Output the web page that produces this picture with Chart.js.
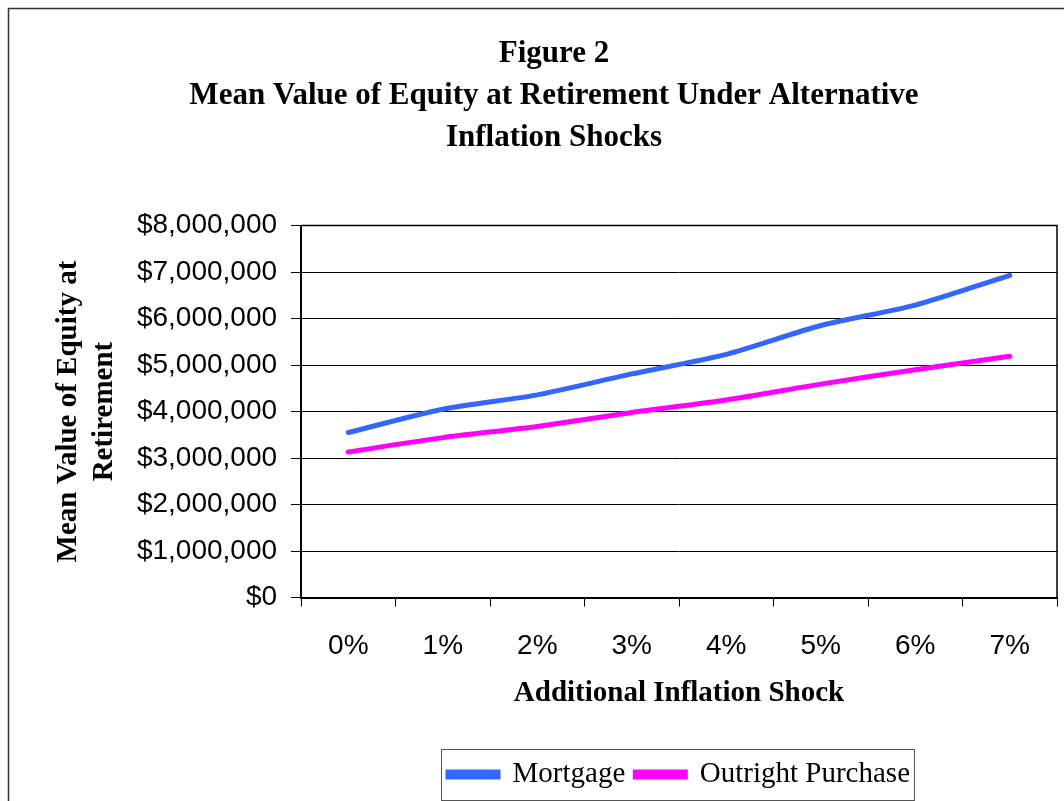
<!DOCTYPE html>
<html>
<head>
<meta charset="utf-8">
<script src="https://cdn.jsdelivr.net/npm/chart.js@4.4.1/dist/chart.umd.min.js"></script>
<style>
    html, body { margin: 0; padding: 0; background: #fff; overflow: hidden; }
    #wrap { width: 1090px; height: 801px; }
</style>
</head>
<body>
<div id="wrap"><canvas id="equity_chart" width="1090" height="801"></canvas></div>
<script>
const shocks = ['0%', '1%', '2%', '3%', '4%', '5%', '6%', '7%'];
const mortgage = [3550000, 4050000, 4360000, 4810000, 5230000, 5850000, 6290000, 6930000];
const outright = [3130000, 3440000, 3680000, 3980000, 4250000, 4590000, 4900000, 5190000];
const titleLines = ['Figure 2', 'Mean Value of Equity at Retirement Under Alternative', 'Inflation Shocks'];
const yTitleLines = ['Mean Value of Equity at', 'Retirement'];

const serif = "'Liberation Serif', 'Times New Roman', serif";
const sans = "'Liberation Sans', Arial, sans-serif";

// page frame, plot box and legend box
const framePlugin = {
    id: 'frames',
    beforeDraw(chart) {
        const ctx = chart.ctx;
        ctx.save();
        ctx.strokeStyle = '#333';
        ctx.lineWidth = 1.5;
        ctx.strokeRect(8.5, 8.5, 2000, 2000);
        ctx.restore();
    },
    afterDraw(chart) {
        const ctx = chart.ctx;
        const a = chart.chartArea;
        ctx.save();
        ctx.strokeStyle = '#000';
        ctx.lineWidth = 1.5;
        ctx.beginPath();
        ctx.moveTo(a.left, a.top);
        ctx.lineTo(a.right, a.top);
        ctx.lineTo(a.right, a.bottom);
        ctx.stroke();

        const boxes = chart.legend.legendHitBoxes;
        if (boxes && boxes.length) {
            const left = Math.min(...boxes.map(b => b.left)) - 7;
            const right = Math.max(...boxes.map(b => b.left + b.width)) + 4;
            const top = boxes[0].top - 11;
            const bottom = boxes[0].top + boxes[0].height + 11;
            ctx.strokeStyle = '#555';
            ctx.lineWidth = 1;
            ctx.strokeRect(Math.round(left) + 0.5, Math.round(top) + 0.5, right - left, bottom - top);
        }
        ctx.restore();
    }
};

const ctx = document.getElementById('equity_chart').getContext('2d');
const equityChart = new Chart(ctx, {
    type: 'line',
    data: {
        labels: shocks,
        datasets: [{
            label: 'Mortgage',
            data: mortgage,
            borderColor: '#3366ff',
            backgroundColor: '#3366ff',
            borderWidth: 5,
            tension: 0.25,
            pointRadius: 0,
            borderCapStyle: 'round'
        }, {
            label: 'Outright Purchase',
            data: outright,
            borderColor: '#ff00ff',
            backgroundColor: '#ff00ff',
            borderWidth: 5,
            tension: 0.25,
            pointRadius: 0,
            borderCapStyle: 'round'
        }]
    },
    options: {
        responsive: false,
        animation: false,
        devicePixelRatio: 1,
        layout: {
            padding: { top: 33, left: 51, right: 33, bottom: 2 }
        },
        plugins: {
            title: {
                display: true,
                text: titleLines,
                color: '#000',
                font: { family: serif, size: 31, weight: 'bold', lineHeight: 1.35 },
                padding: { top: 0, bottom: 67 }
            },
            legend: {
                position: 'bottom',
                fullSize: false,
                labels: {
                    color: '#000',
                    font: { family: serif, size: 29 },
                    boxWidth: 50,
                    boxHeight: 5,
                    padding: 10
                }
            },
            tooltip: { enabled: false }
        },
        scales: {
            x: {
                offset: true,
                grid: {
                    offset: true,
                    drawOnChartArea: false,
                    drawTicks: true,
                    tickLength: 9,
                    color: '#000'
                },
                border: { color: '#000', width: 2 },
                ticks: {
                    color: '#000',
                    padding: 23,
                    maxRotation: 0,
                    font: { family: sans, size: 28 }
                },
                title: {
                    display: true,
                    text: 'Additional Inflation Shock',
                    color: '#000',
                    font: { family: serif, size: 29, weight: 'bold', lineHeight: 1.2 },
                    padding: { top: -10, bottom: 39 }
                }
            },
            y: {
                min: 0,
                max: 8000000,
                grid: {
                    color: '#000',
                    lineWidth: 1,
                    tickLength: 10
                },
                border: { color: '#000', width: 2 },
                ticks: {
                    stepSize: 1000000,
                    color: '#000',
                    padding: 14,
                    font: { family: sans, size: 28 },
                    callback: function(value) {
                        return '$' + value.toLocaleString('en-US');
                    }
                },
                title: {
                    display: true,
                    text: yTitleLines,
                    color: '#000',
                    font: { family: serif, size: 29, weight: 'bold', lineHeight: 1.24 },
                    padding: { top: 0, bottom: 0 }
                }
            }
        }
    },
    plugins: [framePlugin]
});
</script>
</body>
</html>
